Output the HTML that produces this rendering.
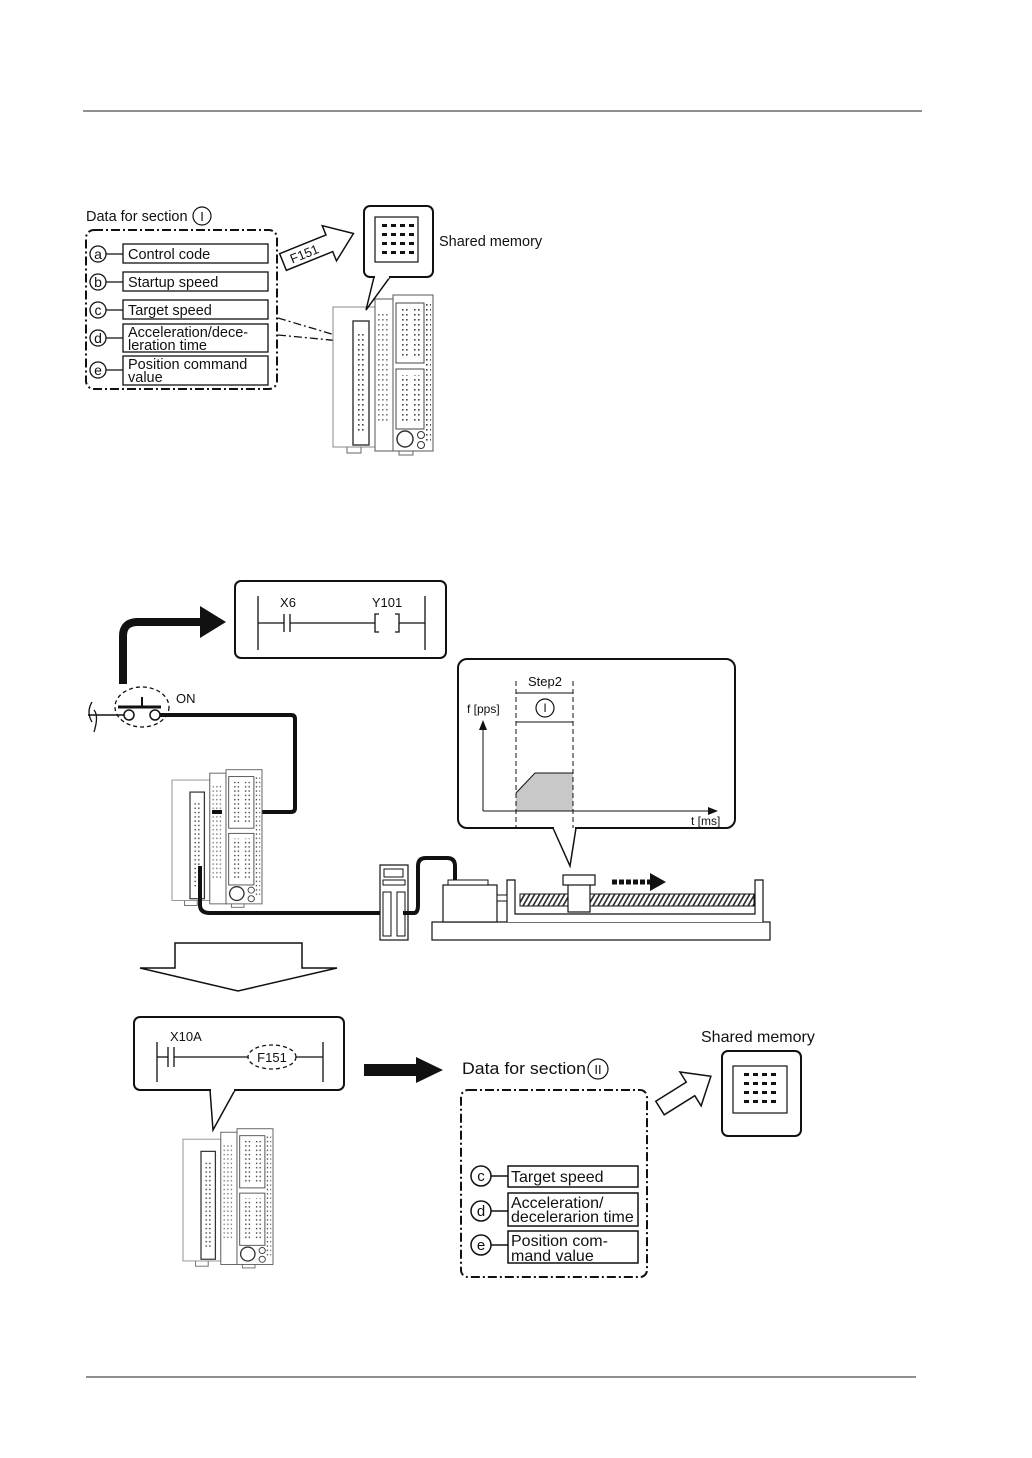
<!DOCTYPE html>
<html><head><meta charset="utf-8"><style>
html,body{margin:0;padding:0;background:#fff}
svg{display:block}
text{font-family:"Liberation Sans",sans-serif;fill:#111}
</style></head><body>
<svg width="1032" height="1458" viewBox="0 0 1032 1458" xmlns="http://www.w3.org/2000/svg">
<defs>
<pattern id="dots" width="4" height="5" patternUnits="userSpaceOnUse"><rect x="1" y="1" width="1.6" height="1.6" fill="#444"/></pattern>
<pattern id="hatch" width="5" height="14" patternUnits="userSpaceOnUse" patternTransform="skewX(-30)"><rect width="2" height="14" fill="#333"/></pattern>
<g id="plc">
 <rect x="0" y="14" width="42" height="140" fill="#fff" stroke="#888" stroke-width="1"/>
 <rect x="20" y="28" width="16" height="124" fill="#fff" stroke="#333" stroke-width="1.4"/>
 <rect x="23" y="40" width="9" height="100" fill="url(#dots)"/>
 <rect x="42" y="6" width="18" height="152" fill="#fff" stroke="#555" stroke-width="1"/>
 <rect x="44" y="20" width="12" height="110" fill="url(#dots)" opacity=".7"/>
 <rect x="60" y="2" width="40" height="156" fill="#fff" stroke="#555" stroke-width="1"/>
 <rect x="63" y="10" width="28" height="60" fill="#fff" stroke="#444"/>
 <rect x="67" y="16" width="8" height="48" fill="url(#dots)"/><rect x="79" y="16" width="8" height="48" fill="url(#dots)"/>
 <rect x="63" y="76" width="28" height="60" fill="#fff" stroke="#444"/>
 <rect x="67" y="82" width="8" height="48" fill="url(#dots)"/><rect x="79" y="82" width="8" height="48" fill="url(#dots)"/>
 <rect x="93" y="8" width="5" height="140" fill="url(#dots)"/>
 <circle cx="72" cy="146" r="8" fill="#fff" stroke="#333" stroke-width="1.5"/>
 <circle cx="88" cy="142" r="3.5" fill="#fff" stroke="#333"/><circle cx="88" cy="152" r="3.5" fill="#fff" stroke="#333"/>
 <path d="M14 154 v6 h14 v-6 M66 158 v4 h14 v-4" fill="none" stroke="#666"/>
</g>
<g id="mem"><g fill="#111">
 <rect x="0" y="0" width="5" height="3"/><rect x="9" y="0" width="5" height="3"/><rect x="18" y="0" width="5" height="3"/><rect x="27" y="0" width="5" height="3"/>
 <rect x="0" y="9" width="5" height="3"/><rect x="9" y="9" width="5" height="3"/><rect x="18" y="9" width="5" height="3"/><rect x="27" y="9" width="5" height="3"/>
 <rect x="0" y="18" width="5" height="3"/><rect x="9" y="18" width="5" height="3"/><rect x="18" y="18" width="5" height="3"/><rect x="27" y="18" width="5" height="3"/>
 <rect x="0" y="27" width="5" height="3"/><rect x="9" y="27" width="5" height="3"/><rect x="18" y="27" width="5" height="3"/><rect x="27" y="27" width="5" height="3"/>
</g></g>
</defs>

<line x1="83" y1="111" x2="922" y2="111" stroke="#222" stroke-width="1"/>
<line x1="86" y1="1377" x2="916" y2="1377" stroke="#222" stroke-width="1"/>

<!-- TOP SECTION -->
<text x="86" y="221" font-size="14.5">Data for section</text>
<circle cx="202" cy="216" r="9" fill="none" stroke="#111" stroke-width="1.2"/>
<text x="202" y="221" font-size="13" text-anchor="middle" font-family="Liberation Serif">I</text>
<rect x="86" y="230" width="191" height="159" rx="8" fill="none" stroke="#111" stroke-width="2" stroke-dasharray="9,3,2,3"/>
<g stroke="#111" stroke-width="1.3" fill="#fff">
 <circle cx="98" cy="254" r="8"/><circle cx="98" cy="282" r="8"/><circle cx="98" cy="310" r="8"/><circle cx="98" cy="338" r="8"/><circle cx="98" cy="370" r="8"/>
 <line x1="106" y1="254" x2="123" y2="254"/><line x1="106" y1="282" x2="123" y2="282"/><line x1="106" y1="310" x2="123" y2="310"/><line x1="106" y1="338" x2="123" y2="338"/><line x1="106" y1="370" x2="123" y2="370"/>
 <rect x="123" y="244" width="145" height="19"/><rect x="123" y="272" width="145" height="19"/><rect x="123" y="300" width="145" height="19"/><rect x="123" y="324" width="145" height="28"/><rect x="123" y="356" width="145" height="29"/>
</g>
<g font-size="14" text-anchor="middle"><text x="98" y="259">a</text><text x="98" y="287">b</text><text x="98" y="315">c</text><text x="98" y="343">d</text><text x="98" y="375">e</text></g>
<g font-size="14.5"><text x="128" y="259">Control code</text><text x="128" y="287">Startup speed</text><text x="128" y="315">Target speed</text>
<text x="128" y="337">Acceleration/dece-</text><text x="128" y="350">leration time</text>
<text x="128" y="369">Position command</text><text x="128" y="382">value</text></g>
<g stroke="#111" stroke-width="1.3" stroke-dasharray="8,3,2,3" fill="none">
<line x1="278" y1="318" x2="362" y2="343"/><line x1="278" y1="335" x2="362" y2="343"/></g>
<use href="#plc" transform="translate(333,293) scale(1,1)"/>
<g transform="translate(283,262) rotate(-22)">
<path d="M0 -9 H50 V-19 L76 0 L50 19 V9 H0 Z" fill="#fff" stroke="#111" stroke-width="1.5"/>
<text x="8" y="5" font-size="13">F151</text></g>
<path d="M374 277 L366 310 L390 277" fill="#fff" stroke="#111" stroke-width="1.5"/>
<rect x="364" y="206" width="69" height="71" rx="6" fill="#fff" stroke="#111" stroke-width="2"/>
<line x1="375" y1="277" x2="389" y2="277" stroke="#fff" stroke-width="3"/>
<rect x="375" y="217" width="43" height="45" fill="#fff" stroke="#111" stroke-width="1.2"/>
<use href="#mem" transform="translate(382,224)"/>
<text x="439" y="246" font-size="14.5">Shared memory</text>

<!-- MIDDLE SECTION -->
<rect x="235" y="581" width="211" height="77" rx="6" fill="#fff" stroke="#111" stroke-width="2"/>
<g stroke="#111" stroke-width="1.3" fill="none">
<line x1="258" y1="596" x2="258" y2="650"/><line x1="425" y1="596" x2="425" y2="650"/>
<line x1="258" y1="623" x2="284" y2="623"/><line x1="284" y1="614" x2="284" y2="632"/><line x1="290" y1="614" x2="290" y2="632"/>
<line x1="290" y1="623" x2="375" y2="623"/><path d="M379 614 h-4 v18 h4 M395 614 h4 v18 h-4"/><line x1="399" y1="623" x2="425" y2="623"/>
</g>
<text x="288" y="607" font-size="13" text-anchor="middle">X6</text>
<text x="387" y="607" font-size="13" text-anchor="middle">Y101</text>
<path d="M123 684 V636 Q123 622 138 622 H202" fill="none" stroke="#111" stroke-width="8"/>
<path d="M200 606 L226 622 L200 638 Z" fill="#111"/>
<ellipse cx="142" cy="707" rx="27" ry="20" fill="none" stroke="#111" stroke-width="1.3" stroke-dasharray="4,3"/>
<path d="M92 702 Q86 712 92 722 M94 710 Q99 716 94 732" fill="none" stroke="#111" stroke-width="1.3"/>
<line x1="88" y1="715" x2="124" y2="715" stroke="#111" stroke-width="1.5"/>
<line x1="118" y1="707" x2="161" y2="707" stroke="#111" stroke-width="3"/>
<line x1="142" y1="697" x2="142" y2="707" stroke="#111" stroke-width="2"/>
<circle cx="129" cy="715" r="5" fill="#fff" stroke="#111" stroke-width="1.5"/>
<circle cx="155" cy="715" r="5" fill="#fff" stroke="#111" stroke-width="1.5"/>
<text x="176" y="703" font-size="13">ON</text>
<path d="M160 715 H291 Q295 715 295 719 V808 Q295 812 291 812 H212" fill="none" stroke="#111" stroke-width="4"/>
<use href="#plc" transform="translate(172,768) scale(0.9,0.86)"/>
<line x1="212" y1="812" x2="222" y2="812" stroke="#111" stroke-width="4"/>
<path d="M200 866 V905 Q200 913 210 913 H403" fill="none" stroke="#111" stroke-width="4"/>
<rect x="380" y="865" width="28" height="75" fill="#fff" stroke="#111" stroke-width="1.2"/>
<rect x="384" y="869" width="19" height="8" fill="#fff" stroke="#111"/>
<rect x="383" y="880" width="22" height="5" fill="#fff" stroke="#111"/>
<rect x="383" y="892" width="8" height="44" fill="#fff" stroke="#111"/><rect x="397" y="892" width="8" height="44" fill="#fff" stroke="#111"/>
<path d="M403 913 H414 Q418 913 418 905 V866 Q418 858 426 858 H447 Q455 858 455 866 V885" fill="none" stroke="#111" stroke-width="4"/>
<rect x="432" y="922" width="338" height="18" fill="#fff" stroke="#111" stroke-width="1.2"/>
<path d="M507 922 V880 H515 V914 H755 V880 H763 V922" fill="#fff" stroke="#111" stroke-width="1.2"/>
<rect x="443" y="885" width="54" height="37" fill="#fff" stroke="#111" stroke-width="1.2"/>
<rect x="448" y="880" width="40" height="5" fill="#fff" stroke="#111"/>
<rect x="497" y="895" width="10" height="6" fill="#fff" stroke="#111"/>
<rect x="520" y="894" width="234" height="12" fill="url(#hatch)" stroke="#111"/>
<rect x="568" y="882" width="22" height="30" fill="#fff" stroke="#111" stroke-width="1.2"/>
<rect x="563" y="875" width="32" height="10" fill="#fff" stroke="#111" stroke-width="1.2"/>
<line x1="612" y1="882" x2="650" y2="882" stroke="#111" stroke-width="5" stroke-dasharray="5,2"/>
<path d="M650 873 L666 882 L650 891 Z" fill="#111"/>
<path d="M553 828 L570 866 L576 828" fill="#fff" stroke="#111" stroke-width="1.5"/>
<rect x="458" y="659" width="277" height="169" rx="9" fill="#fff" stroke="#111" stroke-width="2"/>
<line x1="554" y1="828" x2="575" y2="828" stroke="#fff" stroke-width="3"/>
<path d="M516 811 V793 L535 773 H573 V811 Z" fill="#c8c8c8"/>
<path d="M516 793 L535 773 H573" fill="none" stroke="#111" stroke-width="1"/>
<g stroke="#111" stroke-width="1" fill="none">
<line x1="483" y1="811" x2="710" y2="811"/><line x1="483" y1="811" x2="483" y2="728"/>
<line x1="516" y1="681" x2="516" y2="828" stroke-dasharray="5,3"/><line x1="573" y1="681" x2="573" y2="828" stroke-dasharray="5,3"/>
<line x1="516" y1="693" x2="573" y2="693"/><line x1="516" y1="722" x2="573" y2="722"/>
<circle cx="545" cy="708" r="9" stroke-width="1.2"/>
</g>
<path d="M479 730 L483 720 L487 730 Z M708 807 L718 811 L708 815 Z" fill="#111"/>
<text x="545" y="708" font-size="12" text-anchor="middle" dy="4" font-family="Liberation Serif">I</text>
<text x="545" y="686" font-size="13" text-anchor="middle">Step2</text>
<text x="467" y="713" font-size="12">f [pps]</text>
<text x="691" y="825" font-size="12">t [ms]</text>

<path d="M175 943 H302 V968 H337 L238 991 L140 968 H175 Z" fill="#fff" stroke="#111" stroke-width="1.5"/>

<!-- BOTTOM SECTION -->
<path d="M210 1090 L213 1130 L235 1090" fill="#fff" stroke="#111" stroke-width="1.5"/>
<rect x="134" y="1017" width="210" height="73" rx="6" fill="#fff" stroke="#111" stroke-width="2"/>
<line x1="211" y1="1090" x2="234" y2="1090" stroke="#fff" stroke-width="3"/>
<g stroke="#111" stroke-width="1.3" fill="none">
<line x1="157" y1="1042" x2="157" y2="1082"/><line x1="323" y1="1042" x2="323" y2="1082"/>
<line x1="157" y1="1057" x2="168" y2="1057"/><line x1="168" y1="1047" x2="168" y2="1067"/><line x1="174" y1="1047" x2="174" y2="1067"/>
<line x1="174" y1="1057" x2="248" y2="1057"/><line x1="296" y1="1057" x2="323" y2="1057"/>
<ellipse cx="272" cy="1057" rx="24" ry="12" stroke-dasharray="4,3"/>
</g>
<text x="170" y="1041" font-size="13">X10A</text>
<text x="272" y="1062" font-size="13" text-anchor="middle">F151</text>
<use href="#plc" transform="translate(183,1127) scale(0.9,0.87)"/>
<path d="M364 1064 H416 V1057 L443 1070 L416 1083 V1076 H364 Z" fill="#111"/>
<text x="462" y="1074" font-size="16.5" textLength="124" lengthAdjust="spacingAndGlyphs">Data for section</text>
<circle cx="598" cy="1069" r="10" fill="none" stroke="#111" stroke-width="1.2"/>
<text x="598" y="1074" font-size="13" text-anchor="middle" font-family="Liberation Serif">II</text>
<rect x="461" y="1090" width="186" height="187" rx="7" fill="none" stroke="#111" stroke-width="2" stroke-dasharray="9,3,2,3"/>
<g stroke="#111" stroke-width="1.5" fill="#fff">
<circle cx="481" cy="1176" r="10"/><circle cx="481" cy="1211" r="10"/><circle cx="481" cy="1245" r="10"/>
<line x1="491" y1="1176" x2="508" y2="1176"/><line x1="491" y1="1211" x2="508" y2="1211"/><line x1="491" y1="1245" x2="508" y2="1245"/>
<rect x="508" y="1166" width="130" height="21"/><rect x="508" y="1193" width="130" height="33"/><rect x="508" y="1231" width="130" height="32"/>
</g>
<g font-size="15" text-anchor="middle"><text x="481" y="1181">c</text><text x="481" y="1216">d</text><text x="481" y="1250">e</text></g>
<g font-size="16"><text x="511" y="1182">Target speed</text>
<text x="511" y="1208">Acceleration/</text><text x="511" y="1222">decelerarion time</text>
<text x="511" y="1246">Position com-</text><text x="511" y="1261">mand value</text></g>
<g transform="translate(660,1108) rotate(-32)">
<path d="M0 -8 H36 V-20 L60 0 L36 20 V8 H0 Z" fill="#fff" stroke="#111" stroke-width="1.5"/></g>
<rect x="722" y="1051" width="79" height="85" rx="6" fill="#fff" stroke="#111" stroke-width="2"/>
<rect x="733" y="1066" width="54" height="47" fill="#fff" stroke="#111" stroke-width="1.2"/>
<use href="#mem" transform="translate(744,1073)"/>
<text x="701" y="1042" font-size="16">Shared memory</text>
</svg>
</body></html>
